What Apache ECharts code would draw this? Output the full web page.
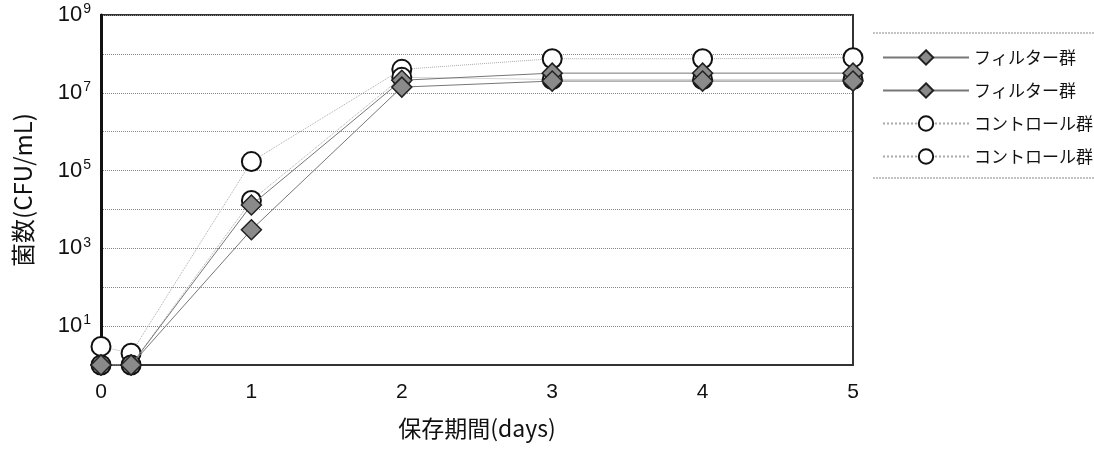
<!DOCTYPE html>
<html>
<head>
<meta charset="utf-8">
<script src="https://cdn.jsdelivr.net/npm/echarts@6/dist/echarts.min.js"></script>
<style>
  html, body { margin: 0; padding: 0; background: #fff; }
  #chart { width: 1094px; height: 450px; }
</style>
</head>
<body>
<div id="chart"></div>
<script>
// 保存期間 (days)
const days = [0, 0.2, 1, 2, 3, 4, 5];
// CFU/mL
const filterA = [1, 1, 1.3e4, 2.1e7, 3.2e7, 3.2e7, 3.2e7];
const filterB = [1, 1, 3e3, 1.4e7, 2e7, 2e7, 2e7];
const controlA = [3, 2, 1.7e5, 4e7, 7.5e7, 7.5e7, 8e7];
const controlB = [1, 1, 1.7e4, 2.5e7, 2.2e7, 2.2e7, 2.2e7];
const seriesNames = ['フィルター群1', 'フィルター群2', 'コントロール群1', 'コントロール群2'];

const pairs = vals => days.map((d, i) => [d, vals[i]]);

const chart = echarts.init(document.getElementById('chart'));

const filterStyle = (name, vals) => ({
  name: name,
  type: 'line',
  z: 5,
  symbol: 'diamond',
  symbolSize: 20,
  lineStyle: { color: '#777', width: 1 },
  itemStyle: { color: '#8a8a8a', borderColor: '#222', borderWidth: 1.5 },
  data: pairs(vals)
});

const controlStyle = (name, vals) => ({
  name: name,
  type: 'line',
  z: 3,
  symbol: 'circle',
  symbolSize: 19,
  lineStyle: { color: '#aaa', width: 1, type: 'dotted' },
  itemStyle: { color: '#fff', borderColor: '#111', borderWidth: 2 },
  data: pairs(vals)
});

chart.setOption({
  animation: false,
  grid: {
    left: 101,
    top: 15,
    right: 241,
    bottom: 85,
    show: true,
    borderColor: '#333',
    borderWidth: 2
  },
  legend: {
    orient: 'vertical',
    left: 877,
    top: 44,
    itemWidth: 86,
    itemHeight: 18,
    itemGap: 16,
    formatter: name => name.replace(/\d$/, ''),
    textStyle: {
      fontFamily: 'Noto Sans CJK JP',
      fontSize: 17,
      color: '#111'
    },
    data: seriesNames
  },
  graphic: [
    { type: 'line', shape: { x1: 873, y1: 33, x2: 1094, y2: 33 },
      style: { stroke: '#888', lineWidth: 1, lineDash: [2, 1] } },
    { type: 'line', shape: { x1: 873, y1: 178, x2: 1094, y2: 178 },
      style: { stroke: '#888', lineWidth: 1, lineDash: [2, 1] } }
  ],
  xAxis: {
    type: 'value',
    min: 0,
    max: 5,
    interval: 1,
    name: '保存期間(days)',
    nameLocation: 'middle',
    nameGap: 52,
    nameTextStyle: { fontFamily: 'Noto Sans CJK JP', fontSize: 23, color: '#111' },
    axisLine: { show: true, lineStyle: { color: '#333', width: 2 } },
    axisTick: { show: false },
    splitLine: { show: false },
    axisLabel: {
      margin: 17,
      fontFamily: 'Liberation Sans',
      fontSize: 21,
      color: '#111'
    }
  },
  yAxis: {
    type: 'log',
    logBase: 10,
    min: 1,
    max: 1e9,
    interval: 1,
    name: '菌数(CFU/mL)',
    nameLocation: 'middle',
    nameGap: 66,
    nameRotate: 90,
    nameTextStyle: { fontFamily: 'Noto Sans CJK JP', fontSize: 24, color: '#111' },
    axisLine: { show: true, lineStyle: { color: '#111', width: 3 } },
    axisTick: { show: false },
    splitLine: { show: true, lineStyle: { color: '#888', width: 1, type: 'dotted' } },
    axisLabel: {
      margin: 10,
      formatter: v => {
        const e = Math.round(Math.log10(v));
        if (e % 2 === 0) return '';
        return '{b|10}{s|' + e + '}';
      },
      rich: {
        b: { fontFamily: 'Liberation Sans', fontSize: 22, color: '#111' },
        s: { fontFamily: 'Liberation Sans', fontSize: 14, color: '#111', padding: [0, 0, 11, 1] }
      }
    }
  },
  series: [
    filterStyle(seriesNames[0], filterA),
    filterStyle(seriesNames[1], filterB),
    controlStyle(seriesNames[2], controlA),
    controlStyle(seriesNames[3], controlB)
  ]
});
</script>
</body>
</html>
